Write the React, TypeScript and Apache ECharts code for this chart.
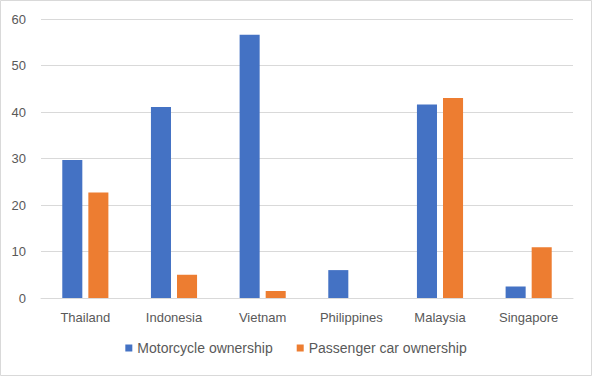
import React, { useEffect, useRef } from "react";
import * as echarts from "echarts";

const categories = ["Thailand", "Indonesia", "Vietnam", "Philippines", "Malaysia", "Singapore"];
const motorcycle = [29.7, 41.1, 56.6, 6.0, 41.6, 2.5];
const passengerCar = [22.7, 5.0, 1.5, 0, 43.0, 10.9];
const seriesNames = ["Motorcycle ownership", "Passenger car ownership"];

export default function App() {
  const ref = useRef<HTMLDivElement>(null);
  useEffect(() => {
    if (!ref.current) return;
    const chart = echarts.init(ref.current, undefined, { renderer: "svg" });
    const font = "Liberation Sans";
    chart.setOption({
      animation: false,
      backgroundColor: "#ffffff",
      textStyle: { fontFamily: font },
      graphic: [
        {
          type: "rect",
          shape: { x: 0.5, y: 0.5, width: 591, height: 375 },
          style: { fill: "none", stroke: "#d9d9d9", lineWidth: 1 },
          silent: true,
        },
      ],
      grid: { left: 41, right: 19, top: 19, bottom: 78, containLabel: false },
      legend: {
        bottom: 16,
        left: "center",
        itemWidth: 7,
        itemHeight: 7,
        itemGap: 24,
        icon: "rect",
        textStyle: { color: "#595959", fontSize: 14, fontFamily: font },
        data: seriesNames,
      },
      xAxis: {
        type: "category",
        data: categories,
        axisTick: { show: false },
        axisLine: { lineStyle: { color: "#d9d9d9", width: 1 } },
        axisLabel: { color: "#595959", fontSize: 13, margin: 13, fontFamily: font },
      },
      yAxis: {
        type: "value",
        min: 0,
        max: 60,
        interval: 10,
        splitLine: { lineStyle: { color: "#d9d9d9", width: 1 } },
        axisLine: { show: false },
        axisTick: { show: false },
        axisLabel: { color: "#595959", fontSize: 13, margin: 15, fontFamily: font },
      },
      series: [
        {
          name: seriesNames[0],
          type: "bar",
          data: motorcycle,
          itemStyle: { color: "#4472C4" },
          barGap: "30%",
          barCategoryGap: "48%",
        },
        {
          name: seriesNames[1],
          type: "bar",
          data: passengerCar,
          itemStyle: { color: "#ED7D31" },
          barGap: "30%",
          barCategoryGap: "48%",
        },
      ],
    });
    return () => chart.dispose();
  }, []);
  return (
    <div
      ref={ref}
      style={{ position: "fixed", left: 0, top: 0, width: 592, height: 376 }}
    />
  );
}
